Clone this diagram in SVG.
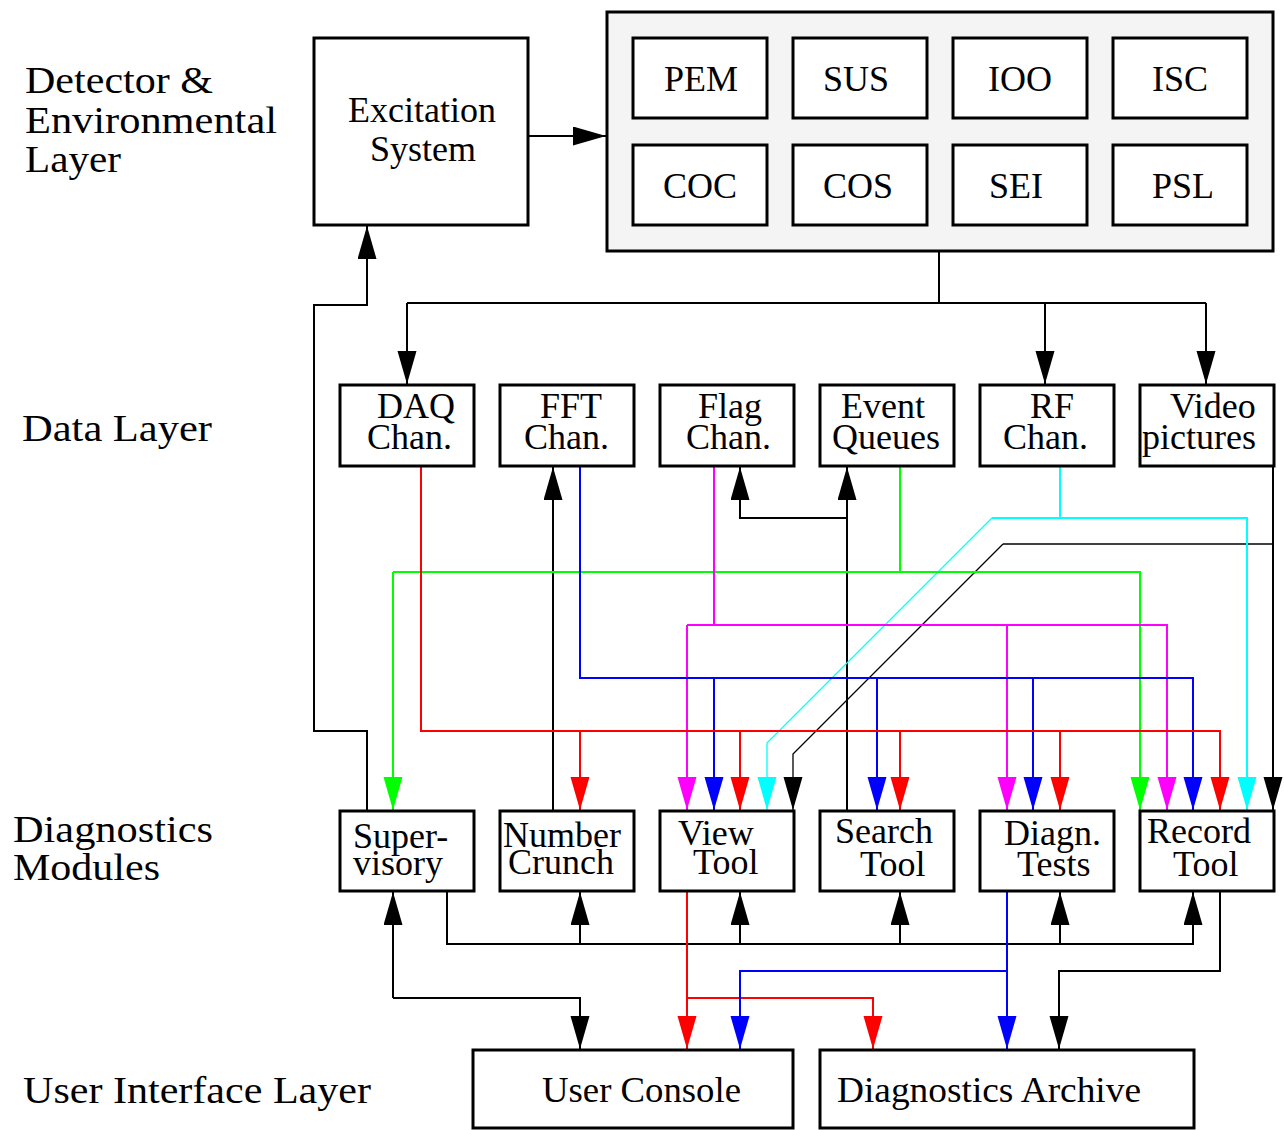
<svg xmlns="http://www.w3.org/2000/svg" width="1284" height="1130" viewBox="0 0 1284 1130">
  <style>
    text { font-family: "Liberation Serif", "Times New Roman", serif; font-size: 36px; fill: #000; }
    .lbl { font-size: 38px; }
    .box { fill: #fff; stroke: #000; stroke-width: 3; }
    .panel { fill: #f4f4f4; stroke: #000; stroke-width: 3; }
    .c { fill: none; stroke-width: 2; stroke-linejoin: miter; }
    .thin { stroke-width: 1.3; }
    .k { stroke: #000; }
    .r { stroke: #ff0000; }
    .g { stroke: #00ff00; }
    .b { stroke: #0000ff; }
    .m { stroke: #ff00ff; }
    .y { stroke: #00ffff; }
  </style>
  <defs>
    <marker id="ak" markerUnits="userSpaceOnUse" markerWidth="34" markerHeight="20" refX="33" refY="9.5" orient="auto"><path d="M0,0 L33,9.5 L0,19 z" fill="#000"/></marker>
    <marker id="ar" markerUnits="userSpaceOnUse" markerWidth="34" markerHeight="20" refX="33" refY="9.5" orient="auto"><path d="M0,0 L33,9.5 L0,19 z" fill="#ff0000"/></marker>
    <marker id="ag" markerUnits="userSpaceOnUse" markerWidth="34" markerHeight="20" refX="33" refY="9.5" orient="auto"><path d="M0,0 L33,9.5 L0,19 z" fill="#00ff00"/></marker>
    <marker id="ab" markerUnits="userSpaceOnUse" markerWidth="34" markerHeight="20" refX="33" refY="9.5" orient="auto"><path d="M0,0 L33,9.5 L0,19 z" fill="#0000ff"/></marker>
    <marker id="am" markerUnits="userSpaceOnUse" markerWidth="34" markerHeight="20" refX="33" refY="9.5" orient="auto"><path d="M0,0 L33,9.5 L0,19 z" fill="#ff00ff"/></marker>
    <marker id="ay" markerUnits="userSpaceOnUse" markerWidth="34" markerHeight="20" refX="33" refY="9.5" orient="auto"><path d="M0,0 L33,9.5 L0,19 z" fill="#00ffff"/></marker>
  </defs>
  <rect width="1284" height="1130" fill="#fff"/>

  <!-- layer labels -->
  <g id="layer-labels">
    <text class="lbl" x="25" y="93" textLength="188" lengthAdjust="spacingAndGlyphs">Detector &amp;</text>
    <text class="lbl" x="25" y="133" textLength="252" lengthAdjust="spacingAndGlyphs">Environmental</text>
    <text class="lbl" x="25" y="172" textLength="96" lengthAdjust="spacingAndGlyphs">Layer</text>
    <text class="lbl" x="22" y="441" textLength="190" lengthAdjust="spacingAndGlyphs">Data Layer</text>
    <text class="lbl" x="13" y="842" textLength="200" lengthAdjust="spacingAndGlyphs">Diagnostics</text>
    <text class="lbl" x="13" y="880" textLength="147" lengthAdjust="spacingAndGlyphs">Modules</text>
    <text class="lbl" x="23" y="1103" textLength="348" lengthAdjust="spacingAndGlyphs">User Interface Layer</text>
  </g>

  <!-- connectors -->
  <g id="connectors">
    <!-- excitation and detector tree -->
    <path class="c k" d="M528,136 H606" marker-end="url(#ak)"/>
    <path class="c k" d="M939,251 V303"/>
    <path class="c k" d="M407,303 H1206"/>
    <path class="c k" d="M407,303 V384" marker-end="url(#ak)"/>
    <path class="c k" d="M1045,303 V384" marker-end="url(#ak)"/>
    <path class="c k" d="M1206,303 V384" marker-end="url(#ak)"/>
    <path class="c k" d="M367,811 V731 H314 V305 H367 V226" marker-end="url(#ak)"/>
    <!-- modules feeding data layer -->
    <path class="c k" d="M553,811 V467" marker-end="url(#ak)"/>
    <path class="c k" d="M847,811 V467" marker-end="url(#ak)"/>
    <path class="c k" d="M847,518 H740 V467" marker-end="url(#ak)"/>
    <!-- video pictures -->
    <path class="c k" d="M1273,466 V810" marker-end="url(#ak)"/>
    <path class="c k" d="M1273,544 H1003" style="stroke-width:1.6"/>
    <path class="c k thin" d="M1003,544 L793,754 V810" marker-end="url(#ak)"/>
    <!-- RF channels -->
    <path class="c y" d="M1060,466 V518"/>
    <path class="c y" d="M992,518 H1247 V810" marker-end="url(#ay)"/>
    <path class="c y thin" d="M992,518 L767,743 V810" marker-end="url(#ay)"/>
    <!-- event queues -->
    <path class="c g" d="M900,466 V572"/>
    <path class="c g" d="M393,572 H1140 V810" marker-end="url(#ag)"/>
    <path class="c g" d="M393,572 V810" marker-end="url(#ag)"/>
    <!-- flag channels -->
    <path class="c m" d="M714,466 V625"/>
    <path class="c m" d="M687,625 H1167 V810" marker-end="url(#am)"/>
    <path class="c m" d="M687,625 V810" marker-end="url(#am)"/>
    <path class="c m" d="M1007,625 V810" marker-end="url(#am)"/>
    <!-- FFT channels -->
    <path class="c b" d="M580,466 V678 H1193 V810" marker-end="url(#ab)"/>
    <path class="c b" d="M714,678 V810" marker-end="url(#ab)"/>
    <path class="c b" d="M877,678 V810" marker-end="url(#ab)"/>
    <path class="c b" d="M1033,678 V810" marker-end="url(#ab)"/>
    <!-- DAQ channels -->
    <path class="c r" d="M421,466 V731 H1220 V810" marker-end="url(#ar)"/>
    <path class="c r" d="M580,731 V810" marker-end="url(#ar)"/>
    <path class="c r" d="M740,731 V810" marker-end="url(#ar)"/>
    <path class="c r" d="M900,731 V810" marker-end="url(#ar)"/>
    <path class="c r" d="M1060,731 V810" marker-end="url(#ar)"/>
    <!-- supervisory control bus -->
    <path class="c k" d="M447,891 V944 H1193 V892" marker-end="url(#ak)"/>
    <path class="c k" d="M580,944 V892" marker-end="url(#ak)"/>
    <path class="c k" d="M740,944 V892" marker-end="url(#ak)"/>
    <path class="c k" d="M900,944 V892" marker-end="url(#ak)"/>
    <path class="c k" d="M1060,944 V892" marker-end="url(#ak)"/>
    <!-- user interface links -->
    <path class="c k" d="M393,998 V892" marker-end="url(#ak)"/>
    <path class="c k" d="M393,998 H580 V1049" marker-end="url(#ak)"/>
    <path class="c r" d="M687,891 V1049" marker-end="url(#ar)"/>
    <path class="c r" d="M687,998 H873 V1049" marker-end="url(#ar)"/>
    <path class="c b" d="M1007,891 V1049" marker-end="url(#ab)"/>
    <path class="c b" d="M1007,971 H740 V1049" marker-end="url(#ab)"/>
    <path class="c k" d="M1220,891 V971 H1059 V1049" marker-end="url(#ak)"/>
  </g>

  <!-- detector & environmental layer -->
  <g id="excitation">
    <rect class="box" x="314" y="38" width="214" height="187"/>
    <text x="348" y="122">Excitation</text>
    <text x="370" y="161">System</text>
  </g>
  <g id="subsystems">
    <rect class="panel" x="607" y="12" width="666" height="239"/>
    <g id="pem"><rect class="box" x="633" y="38" width="134" height="80"/><text x="664" y="91">PEM</text></g>
    <g id="sus"><rect class="box" x="793" y="38" width="134" height="80"/><text x="823" y="91">SUS</text></g>
    <g id="ioo"><rect class="box" x="953" y="38" width="134" height="80"/><text x="988" y="91">IOO</text></g>
    <g id="isc"><rect class="box" x="1113" y="38" width="134" height="80"/><text x="1152" y="91">ISC</text></g>
    <g id="coc"><rect class="box" x="633" y="145" width="134" height="80"/><text x="663" y="198">COC</text></g>
    <g id="cos"><rect class="box" x="793" y="145" width="134" height="80"/><text x="823" y="198">COS</text></g>
    <g id="sei"><rect class="box" x="953" y="145" width="134" height="80"/><text x="989" y="198">SEI</text></g>
    <g id="psl"><rect class="box" x="1113" y="145" width="134" height="80"/><text x="1152" y="198">PSL</text></g>
  </g>

  <!-- data layer -->
  <g id="daq"><rect class="box" x="340" y="385" width="134" height="81"/><text x="377" y="418">DAQ</text><text x="367" y="449">Chan.</text></g>
  <g id="fft"><rect class="box" x="500" y="385" width="134" height="81"/><text x="540" y="418">FFT</text><text x="524" y="449">Chan.</text></g>
  <g id="flag"><rect class="box" x="660" y="385" width="134" height="81"/><text x="698" y="418">Flag</text><text x="686" y="449">Chan.</text></g>
  <g id="event"><rect class="box" x="820" y="385" width="134" height="81"/><text x="841" y="418">Event</text><text x="832" y="449">Queues</text></g>
  <g id="rf"><rect class="box" x="980" y="385" width="134" height="81"/><text x="1030" y="418">RF</text><text x="1003" y="449">Chan.</text></g>
  <g id="video"><rect class="box" x="1140" y="385" width="134" height="81"/><text x="1170" y="418">Video</text><text x="1142" y="449">pictures</text></g>

  <!-- diagnostics modules -->
  <g id="supervisory"><rect class="box" x="340" y="811" width="134" height="80"/><text x="353" y="848">Super-</text><text x="353" y="875">visory</text></g>
  <g id="number-crunch"><rect class="box" x="500" y="811" width="134" height="80"/><text x="503" y="847">Number</text><text x="508" y="874">Crunch</text></g>
  <g id="view-tool"><rect class="box" x="660" y="811" width="134" height="80"/><text x="678" y="845">View</text><text x="693" y="874">Tool</text></g>
  <g id="search-tool"><rect class="box" x="820" y="811" width="134" height="80"/><text x="835" y="843">Search</text><text x="860" y="876">Tool</text></g>
  <g id="diagn-tests"><rect class="box" x="980" y="811" width="134" height="80"/><text x="1004" y="845">Diagn.</text><text x="1017" y="876">Tests</text></g>
  <g id="record-tool"><rect class="box" x="1140" y="811" width="134" height="80"/><text x="1147" y="843">Record</text><text x="1173" y="876">Tool</text></g>

  <!-- user interface layer -->
  <g id="user-console"><rect class="box" x="473" y="1050" width="320" height="78"/><text x="542" y="1102" textLength="199" lengthAdjust="spacingAndGlyphs">User Console</text></g>
  <g id="diagnostics-archive"><rect class="box" x="820" y="1050" width="374" height="78"/><text x="837" y="1102" textLength="304" lengthAdjust="spacingAndGlyphs">Diagnostics Archive</text></g>
</svg>
